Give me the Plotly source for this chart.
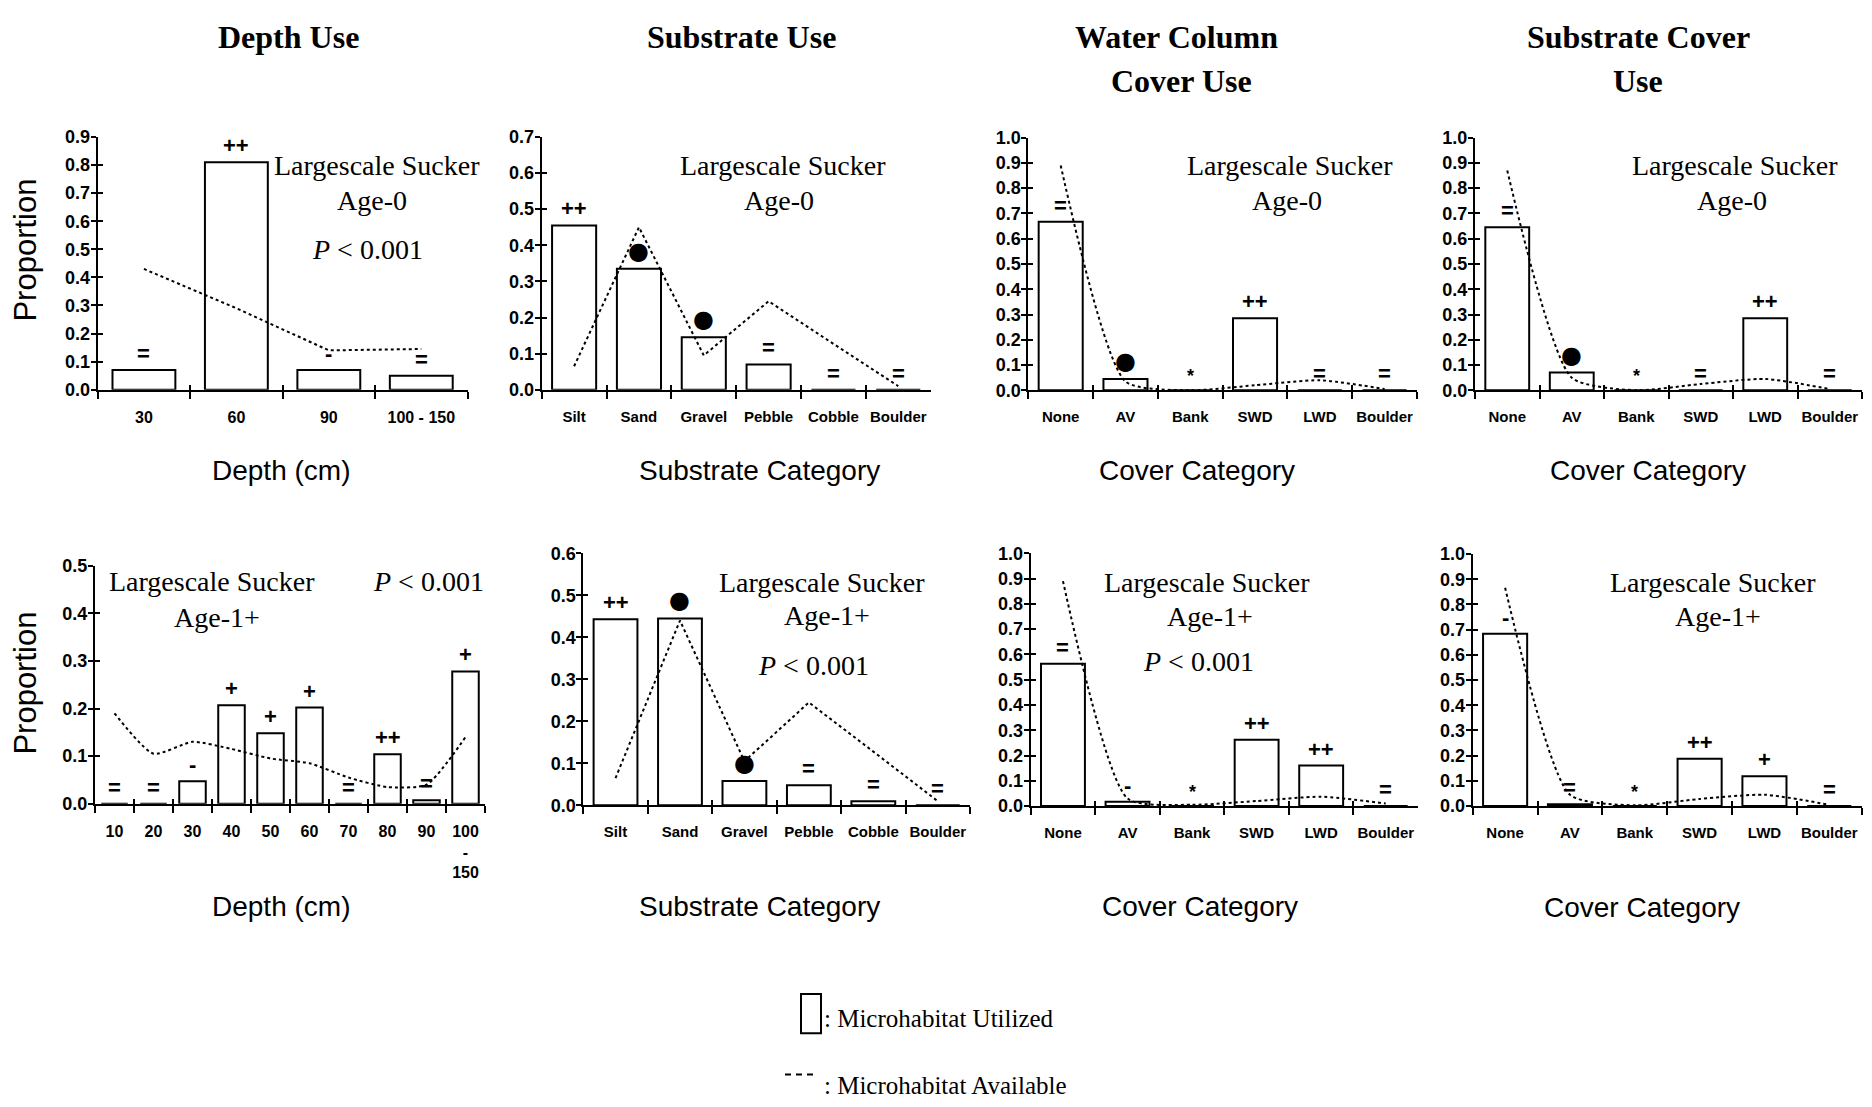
import plotly.graph_objects as go

W, H = 1872, 1107

# ---------------- data ----------------
depth0_cats = ["30", "60", "90", "100 - 150"]
depth0_used = [0.07, 0.81, 0.07, 0.05]
depth0_avail = [0.43, 0.29, 0.14, 0.145]
depth0_sig = ["=", "++", "-", "="]

subs_cats = ["Silt", "Sand", "Gravel", "Pebble", "Cobble", "Boulder"]
subs0_used = [0.455, 0.335, 0.145, 0.07, 0.0, 0.0]
subs0_avail = [0.065, 0.45, 0.095, 0.245, 0.127, 0.01]
subs0_sig = ["++", "●", "●", "=", "=", "="]

cover_cats = ["None", "AV", "Bank", "SWD", "LWD", "Boulder"]
wcol0_used = [0.667, 0.045, 0.0, 0.285, 0.0, 0.0]
wcol0_avail = [0.89, 0.035, 0.0, 0.02, 0.04, 0.005]
wcol0_sig = ["=", "●", "*", "++", "=", "="]

scov0_used = [0.645, 0.07, 0.0, 0.0, 0.285, 0.0]
scov0_avail = [0.87, 0.05, 0.0, 0.025, 0.045, 0.005]
scov0_sig = ["=", "●", "*", "=", "++", "="]

depth1_cats = ["10", "20", "30", "40", "50", "60", "70", "80", "90", "100<br>-<br>150"]
depth1_used = [0.0, 0.0, 0.047, 0.207, 0.148, 0.202, 0.0, 0.104, 0.007, 0.278]
depth1_avail = [0.19, 0.105, 0.13, 0.115, 0.095, 0.085, 0.055, 0.035, 0.04, 0.14]
depth1_sig = ["=", "=", "-", "+", "+", "+", "=", "++", "=", "+"]

subs1_used = [0.443, 0.445, 0.058, 0.048, 0.01, 0.0]
subs1_avail = [0.065, 0.44, 0.105, 0.245, 0.128, 0.01]
subs1_sig = ["++", "●", "●", "=", "=", "="]

wcol1_used = [0.563, 0.017, 0.0, 0.262, 0.16, 0.0]
wcol1_avail = [0.89, 0.03, 0.005, 0.02, 0.037, 0.01]
wcol1_sig = ["=", "-", "*", "++", "++", "="]

scov1_used = [0.684, 0.007, 0.0, 0.188, 0.118, 0.0]
scov1_avail = [0.866, 0.045, 0.003, 0.028, 0.045, 0.005]
scov1_sig = ["-", "=", "*", "++", "+", "="]

# ---------------- layout of the eight panels ----------------
# box = (left, right, top, bottom) in pixels
panels = [
    dict(cats=depth0_cats, used=depth0_used, avail=depth0_avail, sig=depth0_sig,
         ymax=0.9, box=(97.7, 467.5, 129.3, 386.7), smooth=False),
    dict(cats=subs_cats, used=subs0_used, avail=subs0_avail, sig=subs0_sig,
         ymax=0.7, box=(541.7, 930.7, 129.3, 386.7), smooth=False),
    dict(cats=cover_cats, used=wcol0_used, avail=wcol0_avail, sig=wcol0_sig,
         ymax=1.0, box=(1028.3, 1417.0, 130.0, 387.3), smooth=True),
    dict(cats=cover_cats, used=scov0_used, avail=scov0_avail, sig=scov0_sig,
         ymax=1.0, box=(1475.0, 1862.0, 130.0, 387.3), smooth=True),
    dict(cats=depth1_cats, used=depth1_used, avail=depth1_avail, sig=depth1_sig,
         ymax=0.5, box=(95.0, 485.0, 566.0, 808.3), smooth=True),
    dict(cats=subs_cats, used=subs1_used, avail=subs1_avail, sig=subs1_sig,
         ymax=0.6, box=(583.3, 970.0, 553.3, 810.0), smooth=False),
    dict(cats=cover_cats, used=wcol1_used, avail=wcol1_avail, sig=wcol1_sig,
         ymax=1.0, box=(1030.7, 1418.0, 553.3, 810.7), smooth=True),
    dict(cats=cover_cats, used=scov1_used, avail=scov1_avail, sig=scov1_sig,
         ymax=1.0, box=(1472.7, 1861.7, 554.0, 810.7), smooth=True),
]

SERIF = "Liberation Serif"
SANS = "Liberation Sans"


def px(x):
    return x / W


def py(y):
    return 1 - y / H


def key(prefix, k):
    return prefix + ("" if k == 1 else str(k))


fig = go.Figure()
layout = {}
annotations = []
N = len(panels)

for k, p in enumerate(panels, start=1):
    ko = k + N  # overlay axes carrying the inner half of the cross ticks
    n = len(p["cats"])
    left, right, top, bottom = p["box"]
    xdom = [px(left), px(right)]
    ydom = [py(bottom), py(top)]
    nt = int(round(p["ymax"] * 10))
    yticks = [round(i * 0.1, 1) for i in range(nt + 1)]
    bounds = [i - 0.5 for i in range(n + 1)]

    fig.add_trace(go.Bar(
        x=p["cats"], y=p["used"], xaxis=key("x", k), yaxis=key("y", k),
        marker=dict(color="white", line=dict(color="black", width=2)),
        showlegend=False, hoverinfo="skip"))
    fig.add_trace(go.Scatter(
        x=list(range(n)), y=p["avail"], xaxis=f"x{ko}", yaxis=f"y{ko}",
        mode="lines",
        line=dict(color="black", width=2, dash="dot",
                  shape="spline" if p["smooth"] else "linear", smoothing=0.6),
        showlegend=False, hoverinfo="skip"))

    layout[key("xaxis", k)] = dict(
        domain=xdom, anchor=key("y", k), type="category",
        categoryorder="array", categoryarray=p["cats"], range=[-0.5, n - 0.5],
        tickson="boundaries", ticks="outside", ticklen=7, tickwidth=2,
        tickcolor="black", showline=True, linewidth=2, linecolor="black",
        showgrid=False, zeroline=False, tickangle=0,
        tickfont=dict(family=SANS, size=15 if n <= 6 and k != 1 else 16,
                      color="black", weight="bold"),
        ticklabelstandoff=12)
    layout[key("yaxis", k)] = dict(
        domain=ydom, anchor=key("x", k), range=[0, p["ymax"]],
        tickvals=yticks, tickformat=".1f", ticks="outside", ticklen=5,
        tickwidth=2, tickcolor="black", showline=True, linewidth=2,
        linecolor="black", showgrid=False, zeroline=False,
        tickfont=dict(family=SANS, size=18, color="black", weight="bold"),
        ticklabelstandoff=-3)
    layout[f"xaxis{ko}"] = dict(
        overlaying=key("x", k), anchor=f"y{ko}", range=[-0.5, n - 0.5],
        tickvals=bounds, ticks="inside", ticklen=5, tickwidth=2,
        tickcolor="black", showticklabels=False, showline=False,
        showgrid=False, zeroline=False)
    layout[f"yaxis{ko}"] = dict(
        overlaying=key("y", k), anchor=f"x{ko}", range=[0, p["ymax"]],
        tickvals=yticks, ticks="inside", ticklen=5, tickwidth=2,
        tickcolor="black", showticklabels=False, showline=False,
        showgrid=False, zeroline=False)

    # significance symbols above each bar (x given as category index)
    for i, (v, s) in enumerate(zip(p["used"], p["sig"])):
        if s == "●":
            f = dict(family="DejaVu Sans", size=24, color="black")
        elif s == "*":
            f = dict(family=SANS, size=18, color="black", weight="bold")
        else:
            f = dict(family=SANS, size=22, color="black", weight="bold")
        annotations.append(dict(
            x=i, y=v, xref=key("x", k), yref=key("y", k), text=s,
            showarrow=False, yanchor="bottom", yshift=2, font=f))


def label(text, x, y, size, family=SERIF, angle=0, **kw):
    annotations.append(dict(
        x=px(x), y=py(y), xref="paper", yref="paper", text=text,
        showarrow=False, xanchor="center", yanchor="middle", textangle=angle,
        font=dict(family=family, size=size, color="black", **kw)))


# column headings
label("<b>Depth Use</b>", 288, 27, 32)
label("<b>Substrate Use</b>", 741, 27, 32)
label("<b>Water Column</b>", 1176, 27, 32)
label("<b>Cover Use</b>", 1181, 72, 32)
label("<b>Substrate Cover</b>", 1638, 27, 32)
label("<b>Use</b>", 1638, 72, 32)

# panel labels
P = "<i>P</i> < 0.001"
for t, x, y in [
    ("Largescale Sucker", 377, 158), ("Age-0", 372, 194), (P, 367, 244),
    ("Largescale Sucker", 783, 158), ("Age-0", 779, 194),
    ("Largescale Sucker", 1290, 158), ("Age-0", 1287, 194),
    ("Largescale Sucker", 1735, 158), ("Age-0", 1732, 194),
    ("Largescale Sucker", 212, 582), ("Age-1+", 217, 619), (P, 428, 582),
    ("Largescale Sucker", 822, 583), ("Age-1+", 827, 617), (P, 813, 668),
    ("Largescale Sucker", 1207, 583), ("Age-1+", 1210, 618), (P, 1198, 663),
    ("Largescale Sucker", 1713, 583), ("Age-1+", 1718, 618),
]:
    label(t, x, y, 28)

# axis titles
for t, x, y in [
    ("Depth (cm)", 281, 469), ("Substrate Category", 759, 469),
    ("Cover Category", 1197, 469), ("Cover Category", 1648, 469),
    ("Depth (cm)", 281, 913), ("Substrate Category", 759, 913),
    ("Cover Category", 1200, 913), ("Cover Category", 1642, 914),
]:
    label(t, x, y, 28, family=SANS)
label("Proportion", 26, 245, 31, family=SANS, angle=-90)
label("Proportion", 26, 686, 31, family=SANS, angle=-90)

# key
annotations.append(dict(x=px(822), y=py(1027), xref="paper", yref="paper",
                        text=": Microhabitat Utilized", showarrow=False,
                        xanchor="left", yanchor="middle",
                        font=dict(family=SERIF, size=25, color="black")))
annotations.append(dict(x=px(822), y=py(1095), xref="paper", yref="paper",
                        text=": Microhabitat Available", showarrow=False,
                        xanchor="left", yanchor="middle",
                        font=dict(family=SERIF, size=25, color="black")))
shapes = [
    dict(type="rect", xref="paper", yref="paper",
         x0=px(801), x1=px(821), y0=py(1042), y1=py(1002),
         line=dict(color="black", width=2), fillcolor="white"),
    dict(type="line", xref="paper", yref="paper",
         x0=px(785), x1=px(816), y0=py(1084), y1=py(1084),
         line=dict(color="black", width=2, dash="6px,5px")),
]

fig.update_layout(
    width=W, height=H, margin=dict(l=0, r=0, t=0, b=0),
    paper_bgcolor="white", plot_bgcolor="rgba(0,0,0,0)",
    bargap=0.32, showlegend=False,
    annotations=annotations, shapes=shapes, **layout)

fig.write_html("out.html")
